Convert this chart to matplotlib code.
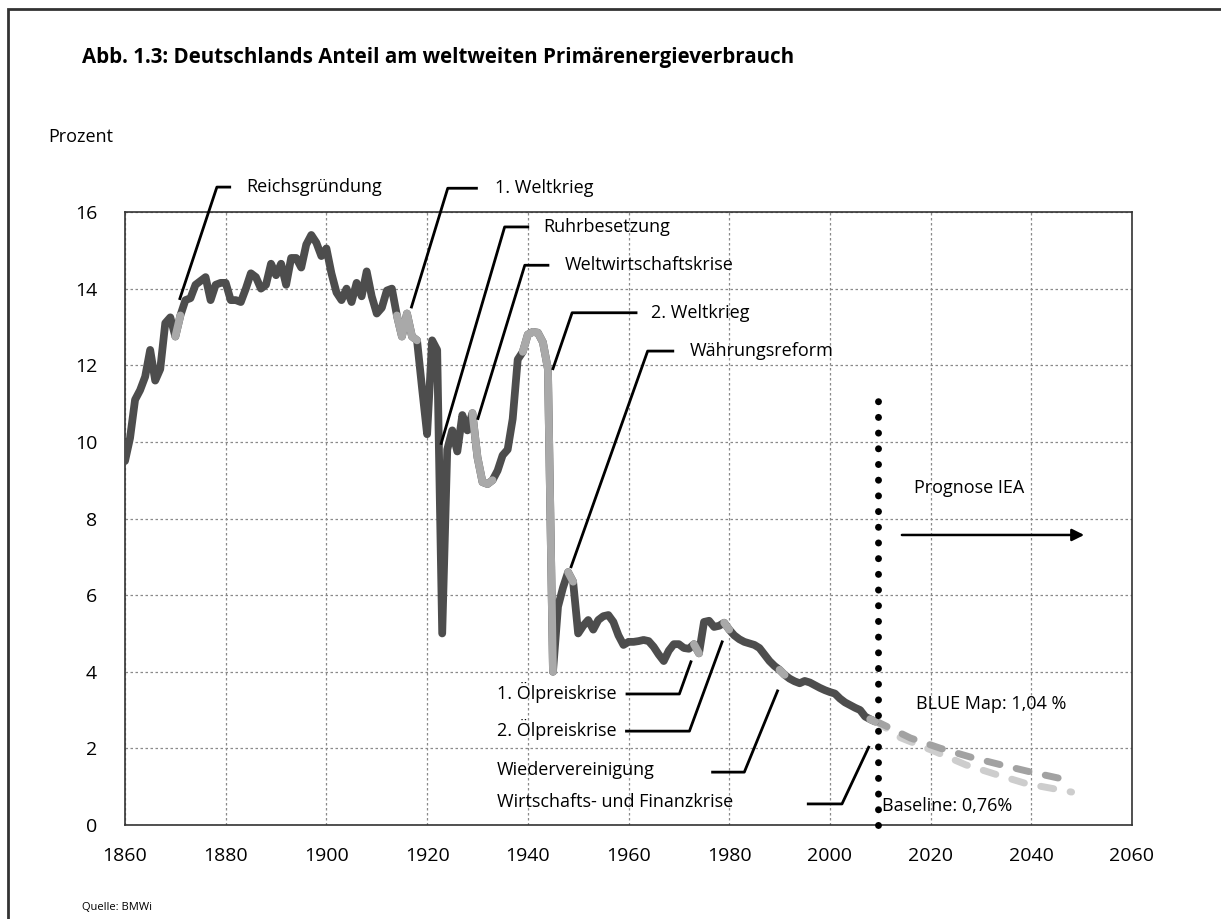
import numpy as np
import matplotlib.pyplot as plt
from matplotlib.patches import Rectangle

plt.rcParams['font.family'] = ['Open Sans', 'DejaVu Sans']

# Anteil Deutschlands am weltweiten Primärenergieverbrauch (Prozent), 1860-2009
years = np.arange(1860, 2010)
share = [
    9.5, 10.1, 11.1, 11.35, 11.7, 12.4, 11.6, 11.9, 13.1, 13.25,        # 1860
    12.75, 13.3, 13.7, 13.75, 14.1, 14.2, 14.3, 13.7, 14.1, 14.15,      # 1870
    14.15, 13.7, 13.7, 13.65, 14.0, 14.4, 14.3, 14.0, 14.1, 14.65,      # 1880
    14.35, 14.65, 14.1, 14.8, 14.8, 14.55, 15.15, 15.4, 15.2, 14.85,    # 1890
    15.05, 14.4, 13.9, 13.7, 14.0, 13.65, 14.15, 13.8, 14.45, 13.8,     # 1900
    13.35, 13.5, 13.95, 14.0, 13.3, 12.75, 13.35, 12.75, 12.65, 11.4,   # 1910
    10.2, 12.65, 12.4, 5.0, 9.8, 10.3, 9.75, 10.7, 10.3, 10.75,         # 1920
    9.6, 8.95, 8.9, 9.0, 9.25, 9.65, 9.8, 10.6, 12.15, 12.35,           # 1930
    12.8, 12.87, 12.85, 12.6, 11.9, 4.0, 5.7, 6.2, 6.6, 6.35,           # 1940
    5.0, 5.2, 5.35, 5.1, 5.35, 5.45, 5.48, 5.3, 4.95, 4.7,              # 1950
    4.78, 4.78, 4.8, 4.83, 4.8, 4.65, 4.45, 4.28, 4.55, 4.72,           # 1960
    4.72, 4.62, 4.6, 4.72, 4.48, 5.3, 5.33, 5.17, 5.2, 5.28,            # 1970
    5.1, 4.95, 4.85, 4.78, 4.74, 4.7, 4.62, 4.45, 4.28, 4.15,           # 1980
    4.05, 3.92, 3.82, 3.75, 3.7, 3.76, 3.72, 3.65, 3.58, 3.52,          # 1990
    3.47, 3.43, 3.3, 3.2, 3.13, 3.06, 3.0, 2.83, 2.76, 2.7,             # 2000
]
share = np.array(share)

# Krisenjahre (heller dargestellt)
crisis_periods = [(1870, 1871), (1914, 1918), (1929, 1933), (1939, 1945),
                  (1948, 1949), (1973, 1974), (1979, 1980), (1990, 1991),
                  (2008, 2009)]

# IEA-Prognosen
blue_years = [2009, 2016, 2022, 2028, 2034, 2040, 2048]
blue_vals = [2.72, 2.27, 2.0, 1.77, 1.57, 1.38, 1.15]
base_years = [2009, 2014, 2021, 2027, 2033, 2039, 2048]
base_vals = [2.72, 2.28, 1.91, 1.57, 1.32, 1.08, 0.86]

DARK = '#4d4d4d'
LIGHT = '#a9a9a9'
FS = 13

fig = plt.figure(figsize=(12.21, 9.19), dpi=100)
ax = fig.add_axes([125 / 1221, 94 / 919, 1007 / 1221, 613 / 919])

ax.set_xlim(1860, 2060)
ax.set_ylim(0, 16)
ax.set_xticks(range(1860, 2061, 20))
ax.set_yticks(range(0, 17, 2))
ax.tick_params(length=0, labelsize=14)
ax.tick_params(axis='x', pad=16)
ax.tick_params(axis='y', pad=20)
ax.grid(True, color='#8a8a8a', linestyle=(0, (2, 2)), linewidth=0.9)
ax.set_axisbelow(True)
for sp in ax.spines.values():
    sp.set_linewidth(1.2)
    sp.set_color('#333333')

# Prognosen
ax.plot(base_years, base_vals, color='#cdcdcd', lw=5, linestyle=(0, (1.9, 2.4)),
        dash_capstyle='round', zorder=3)
ax.plot(blue_years, blue_vals, color='#a2a2a2', lw=5, linestyle=(0, (1.9, 2.4)),
        dash_capstyle='round', zorder=3)

# historische Reihe
ax.plot(years, share, color=DARK, lw=5.6, solid_capstyle='round',
        solid_joinstyle='round', zorder=4)
for a, b in crisis_periods:
    m = (years >= a) & (years <= b)
    ax.plot(years[m], share[m], color=LIGHT, lw=5.6, solid_capstyle='round',
            solid_joinstyle='round', zorder=5)

# Trennlinie 2009
ax.plot([2009.5, 2009.5], [0, 11.1], color='black', lw=5,
        linestyle=(0, (0.01, 2.25)), dash_capstyle='round', zorder=6,
        clip_on=False)

# Beschriftungen mit Hinweislinien
labels = [
    ('Reichsgründung', [(1870.9, 13.74), (1878.25, 16.65), (1880.8, 16.65)], (1884.0, 16.65)),
    ('1. Weltkrieg', [(1916.9, 13.52), (1924.1, 16.62), (1929.8, 16.62)], (1933.4, 16.62)),
    ('Ruhrbesetzung', [(1922.8, 9.96), (1935.4, 15.61), (1940.0, 15.61)], (1943.1, 15.61)),
    ('Weltwirtschaftskrise', [(1930.1, 10.61), (1939.4, 14.61), (1944.0, 14.61)], (1947.3, 14.61)),
    ('2. Weltkrieg', [(1945.0, 11.91), (1948.8, 13.37), (1961.5, 13.37)], (1964.5, 13.37)),
    ('Währungsreform', [(1948.6, 6.74), (1963.8, 12.37), (1968.8, 12.37)], (1972.1, 12.37)),
    ('1. Ölpreiskrise', [(1972.4, 4.26), (1970.1, 3.42), (1959.7, 3.42)], (1933.8, 3.47)),
    ('2. Ölpreiskrise', [(1978.6, 4.78), (1972.1, 2.45), (1959.6, 2.45)], (1933.8, 2.5)),
    ('Wiedervereinigung', [(1989.6, 3.5), (1983.0, 1.38), (1976.7, 1.38)], (1933.8, 1.43)),
    ('Wirtschafts- und Finanzkrise', [(2007.7, 2.03), (2002.4, 0.55), (1995.7, 0.55)], (1933.8, 0.6)),
]
for text, pts, pos in labels:
    xs, ys = zip(*pts)
    ax.plot(xs, ys, color='black', lw=2, clip_on=False, zorder=7)
    ax.text(pos[0], pos[1], text, fontsize=FS, va='center', ha='left', zorder=8)

ax.annotate('', xy=(2050.5, 7.57), xytext=(2014.3, 7.57),
            arrowprops=dict(arrowstyle='-|>', color='black', lw=1.8,
                            mutation_scale=18, shrinkA=0, shrinkB=0))
ax.text(2016.7, 8.79, 'Prognose IEA', fontsize=FS, va='center')
ax.text(2017.1, 3.17, 'BLUE Map: 1,04 %', fontsize=FS, va='center')
ax.text(2010.4, 0.5, 'Baseline: 0,76%', fontsize=FS, va='center')

fig.text(82 / 1221, 1 - 57 / 919,
         'Abb. 1.3: Deutschlands Anteil am weltweiten Primärenergieverbrauch',
         fontsize=14.8, fontweight='bold', va='center')
fig.text(48 / 1221, 1 - 137 / 919, 'Prozent', fontsize=13, va='center')
fig.text(82 / 1221, 1 - 907 / 919, 'Quelle: BMWi', fontsize=8, va='center')

fig.patches.append(Rectangle((8 / 1221, -0.05), 1.1, 1.05 - 9 / 919,
                             transform=fig.transFigure, fill=False,
                             edgecolor='#333333', lw=2))

fig.savefig('out.png', dpi=100)
